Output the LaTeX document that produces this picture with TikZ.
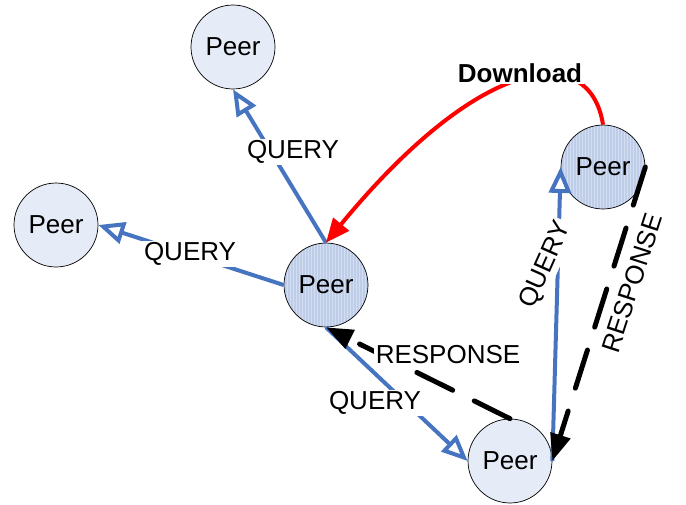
\documentclass[tikz,border=0pt]{standalone}
\usepackage{fontspec}
\setmainfont{Liberation Sans}
\usepackage{tikz}
\usetikzlibrary{arrows.meta,positioning}
\usepackage{xcolor}

\definecolor{querycol}{RGB}{70,116,193}
\definecolor{lightfill}{RGB}{230,236,247}
\definecolor{darkfill}{RGB}{190,205,232}

\begin{document}
\begin{tikzpicture}[x=0.02cm, y=-0.02cm]
        %styles
        \tikzstyle{peer}=[circle, draw=black, thin, fill=lightfill, minimum size=1.68cm, inner sep=0pt, font=\fontsize{14.8}{17}\selectfont]
        \tikzstyle{peerdark}=[peer, fill=darkfill, path picture={\foreach \i in {-30,...,30}{\draw[white, opacity=0.35, line width=0.5pt] ([xshift=\i*0.06cm]path picture bounding box.south) -- ++(0cm,2cm);}}]
        \tikzstyle{lbl}=[fill=white, inner sep=1pt, font=\fontsize{14.8}{17}\selectfont]
        \tikzstyle{query}=[-{Triangle[open, length=0.52cm, width=0.44cm]}, draw=querycol, line width=0.08cm]
        \tikzstyle{response}=[-{Triangle[length=0.54cm, width=0.4cm]}, draw=black, line width=0.1cm, line cap=round, dash pattern=on 0.8cm off 0.48cm]
        \tikzstyle{download}=[-{Triangle[length=0.48cm, width=0.4cm]}, draw=red, line width=0.08cm]

        \useasboundingbox (0,0) rectangle (686,504);

        %nodes
        \node[peer] (top) at (233,47) {Peer};
        \node[peer] (left) at (56,225) {Peer};
        \node[peerdark] (mid) at (326,285) {Peer};
        \node[peerdark] (rt) at (603,167) {Peer};
        \node[peer] (bot) at (510,461) {Peer};

        %arrows
        \draw[query] (mid.north)--(top.south);
        \draw[query] (mid.west)--(left.east);
        \draw[query] (mid.south)--(bot.west);
        \draw[query] (bot.east)--(rt.west);

        \draw[response] (bot.north)--(mid.south);
        \draw[response] (rt.east)--(bot.east);

        \draw[download] (rt.north) .. controls (590,40) and (480,55) .. (mid.north);

        %labels
        \node[lbl] (q1) at (293,152) {QUERY};
        \node[lbl] (q2) at (190,254) {QUERY};
        \node[lbl] (q3) at (375,403) {QUERY};
        \node[lbl] (r1) at (448,355) {RESPONSE};
        \node[lbl, rotate=66] (q4) at (546,265) {QUERY};
        \node[lbl, rotate=72] (r2) at (632,283) {RESPONSE};
        \node[lbl, font=\fontsize{14.8}{17}\selectfont\bfseries] (dl) at (520,73) {Download};
\end{tikzpicture}
\end{document}
